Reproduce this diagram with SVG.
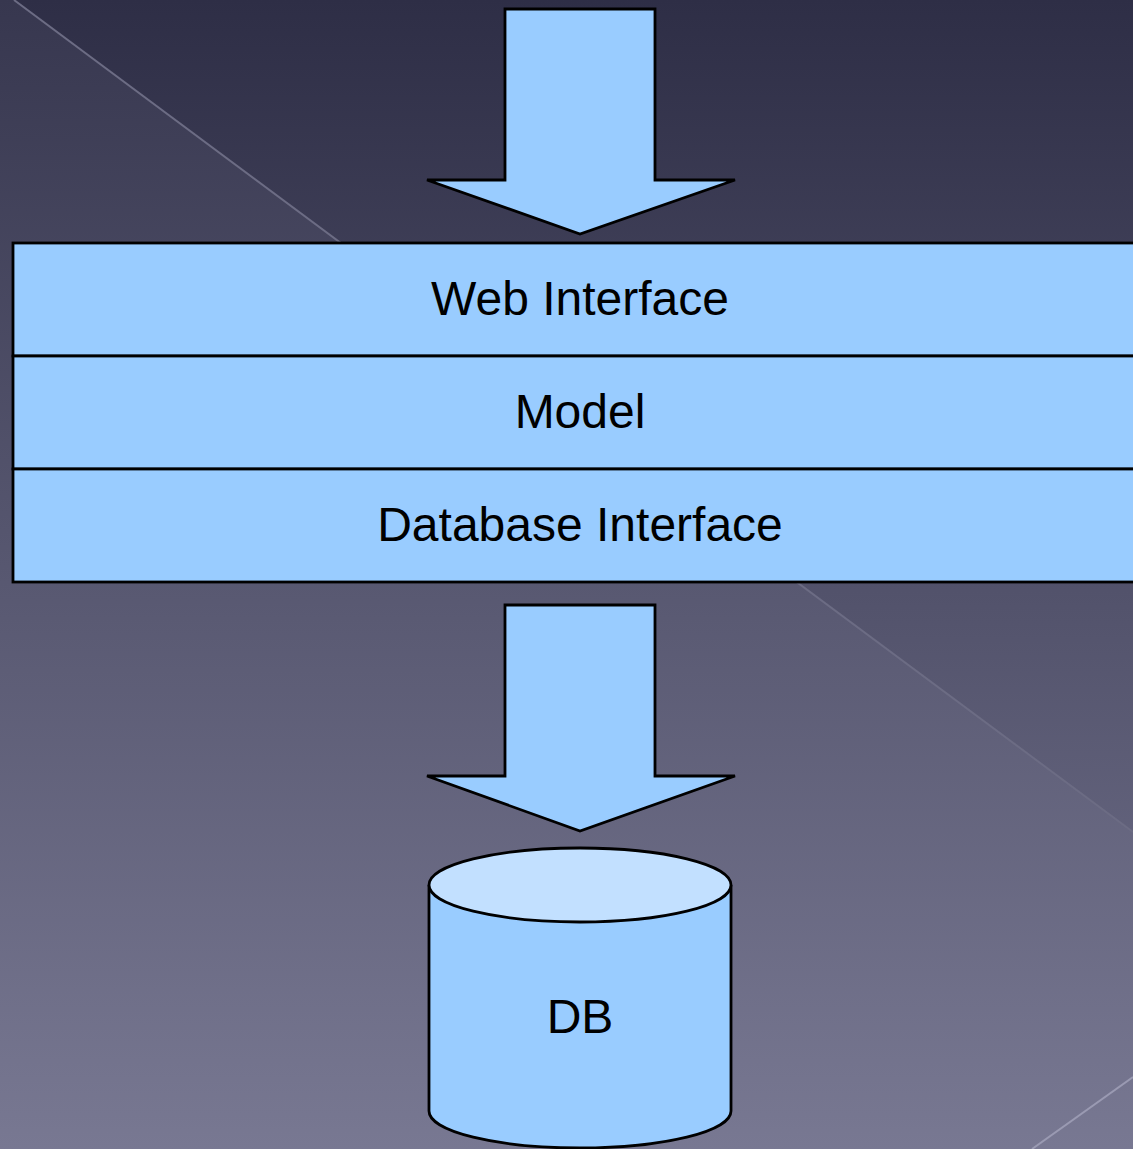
<svg xmlns="http://www.w3.org/2000/svg" width="1133" height="1149" viewBox="0 0 1133 1149">
<defs>
<linearGradient id="bg" x1="0" y1="0" x2="0" y2="1">
<stop offset="0" stop-color="#2e2e46"/>
<stop offset="1" stop-color="#74748e"/>
</linearGradient>
<linearGradient id="bg2" x1="0" y1="0" x2="0" y2="1">
<stop offset="0" stop-color="#37374f"/>
<stop offset="1" stop-color="#787892"/>
</linearGradient>
<style>
.shape{fill:#99ccff;stroke:#000;stroke-width:2.8;stroke-linejoin:miter}
.lbl{font-family:"Liberation Sans",Arial,sans-serif;font-size:48px;fill:#000;text-anchor:middle}
.deco{stroke:#6c6c84;stroke-width:2;fill:none}
</style>
</defs>
<rect width="1133" height="1149" fill="url(#bg)"/>
<polygon points="0,0 14,0 1133,832 1133,1149 0,1149" fill="url(#bg2)"/>
<line class="deco" x1="14" y1="0" x2="1133" y2="832"/>
<line x1="1133" y1="1077" x2="1032" y2="1149" stroke="#9a9ab2" stroke-width="2"/>
<g id="connectors">
<polygon class="shape" points="505,9 655,9 655,180 735,180 580,234 427,180 505,180"/>
<polygon class="shape" points="505,605 655,605 655,776 735,776 580,831 427,776 505,776"/>
</g>
<g id="web-interface">
<rect class="shape" x="13" y="243" width="1130" height="113"/>
<text class="lbl" x="580" y="315">Web Interface</text>
</g>
<g id="model">
<rect class="shape" x="13" y="356" width="1130" height="113"/>
<text class="lbl" x="580" y="428">Model</text>
</g>
<g id="database-interface">
<rect class="shape" x="13" y="469" width="1130" height="113"/>
<text class="lbl" x="580" y="541">Database Interface</text>
</g>
<g id="db">
<path class="shape" d="M429,885 L429,1111 A151,37 0 0 0 731,1111 L731,885"/>
<ellipse cx="580" cy="885" rx="151" ry="37" fill="#c2e0ff" stroke="#000" stroke-width="2.8"/>
<text class="lbl" x="580" y="1033">DB</text>
</g>
</svg>
